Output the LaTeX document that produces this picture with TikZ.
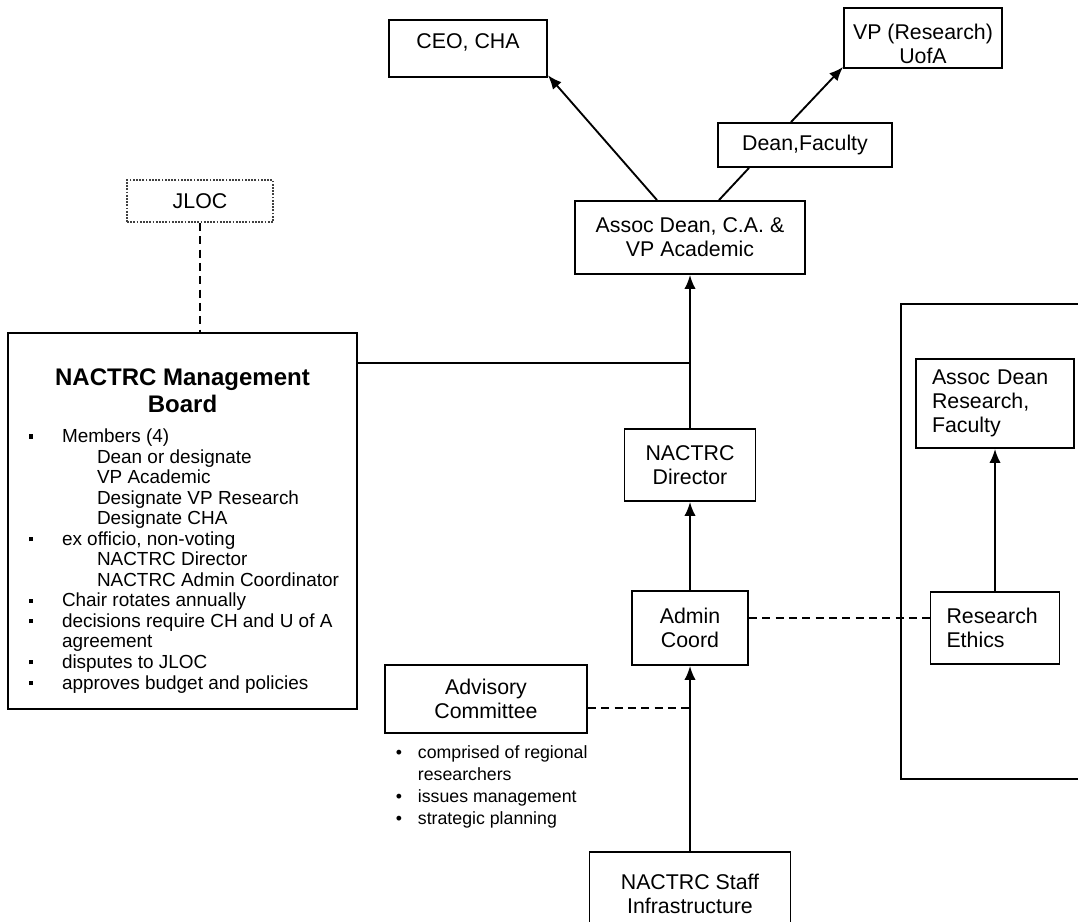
\documentclass[tikz,border=0pt]{standalone}
\usepackage{fontspec}
\setmainfont{Liberation Sans}
\usetikzlibrary{arrows.meta}
\tikzset{
  org chart/.style={x=0.75pt, y=-0.75pt, line width=1.4pt,
    font=\fontsize{16}{18}\selectfont},
  org box/.style={draw, fill=white, align=center, inner sep=2pt},
  org text box/.style={draw, fill=white, align=left, inner xsep=12pt, inner ysep=2pt},
  org frame/.style={draw, fill=white, inner sep=0pt},
  org jloc/.style={org box, densely dotted, draw=black!75},
  org arrow/.style={-{Latex[length=10.5pt,width=8.5pt]}},
  org dash/.style={dash pattern=on 6pt off 4pt, line width=1pt},
  org note/.style={inner sep=0pt, align=left, font=\fontsize{13.3}{16.5}\selectfont}
}
% bullet lines of the board text
\newcommand{\brdbullet}[1]{\hspace*{15.75pt}\makebox[24.75pt][l]{\rule[3pt]{3.2pt}{3.2pt}}#1\par}
\newcommand{\brdmore}[1]{\hspace*{40.5pt}#1\par}
\newcommand{\brdsub}[1]{\hspace*{66.75pt}#1\par}

\begin{document}
\begin{tikzpicture}[org chart]
\useasboundingbox (0,0) rectangle (1078,921);
\clip (0,0) rectangle (1078,921);

% top of the chart
\node[org box, minimum width=118.5pt, minimum height=42.75pt, text depth=11pt] (ceo) at (468,48.5) {CEO, CHA};
\node[org box, minimum width=118.5pt, minimum height=45pt, text height=39pt] (vp) at (923,38) {VP (Research)\\UofA};
\node[org box, minimum width=130.5pt, minimum height=33pt] (dean) at (805,145) {Dean,Faculty};
\node[org box, minimum width=172.5pt, minimum height=54.75pt] (assoc) at (690,237.5) {Assoc Dean, C.A. \&\\VP Academic};
\node[org jloc, minimum width=109.5pt, minimum height=31.5pt] (jloc) at (200,201) {JLOC};

% management board
\node[org frame] (board) at (182.5,521) {%
  \begin{minipage}[c][282pt][t]{261.75pt}
    \vspace*{26.5pt}
    {\centering\fontsize{18}{20.25}\selectfont\bfseries NACTRC Management\\Board\par}
    \vspace{7.5pt}
    \fontsize{14.2}{15.4}\selectfont
    \brdbullet{Members (4)}
    \brdsub{Dean or designate}
    \brdsub{VP Academic}
    \brdsub{Designate VP Research}
    \brdsub{Designate CHA}
    \brdbullet{ex officio, non-voting}
    \brdsub{NACTRC Director}
    \brdsub{NACTRC Admin Coordinator}
    \brdbullet{Chair rotates annually}
    \brdbullet{decisions require CH and U of A}
    \brdmore{agreement}
    \brdbullet{disputes to JLOC}
    \brdbullet{approves budget and policies}
  \end{minipage}};

% centre column
\node[org box, minimum width=98.25pt, minimum height=54pt] (director) at (690,465) {NACTRC\\Director};
\node[org box, minimum width=87pt, minimum height=55.5pt] (admin) at (690,628) {Admin\\Coord};
\node[org box, minimum width=151.5pt, minimum height=51pt] (advisory) at (486,699) {Advisory\\Committee};
\node[org note, anchor=north west] (advnotes) at (395,745) {%
  \makebox[16.5pt][l]{\textbullet}comprised of regional\\
  \hspace*{16.5pt}researchers\\
  \makebox[16.5pt][l]{\textbullet}issues management\\
  \makebox[16.5pt][l]{\textbullet}strategic planning};
\node[org box, minimum width=150.75pt, minimum height=62.25pt] (staff) at (690,893.5) {NACTRC Staff\\Infrastructure};

% research side
\node[org frame, minimum width=141.75pt, minimum height=356.25pt] (panel) at (995.5,541.5) {};
\node[org text box, text width=94.5pt, minimum height=66.75pt] (resdean) at (995,403.5) {Assoc Dean\\Research,\\Faculty};
\node[org text box, text width=72.75pt, minimum height=54pt] (ethics) at (995,628) {Research\\Ethics};

% connectors
\draw[org arrow] ([xshift=-24.75pt]assoc.north) -- ([yshift=2pt]ceo.south east);
\draw ([xshift=21.75pt]assoc.north) -- ([xshift=-42pt]dean.south);
\draw[org arrow] ([xshift=-10.5pt]dean.north) -- ([yshift=1.5pt]vp.south west);
\draw[org dash] (jloc.south) -- (jloc.south |- board.north);
\draw ([yshift=-23.25pt]board.north east) -- ([yshift=-23.25pt]board.north east -| assoc.south);
\draw[org arrow] (director.north) -- (assoc.south);
\draw[org arrow] (admin.north) -- (director.south);
\draw[org arrow] (staff.north) -- (admin.south);
\draw[org dash] ([yshift=-6.75pt]advisory.east) -- ([yshift=-6.75pt]advisory.east -| admin.south);
\draw[org dash] ([yshift=7.5pt]admin.east) -- ([yshift=7.5pt]admin.east -| ethics.west);
\draw[org arrow] (ethics.north) -- (resdean.south);
\end{tikzpicture}
\end{document}
